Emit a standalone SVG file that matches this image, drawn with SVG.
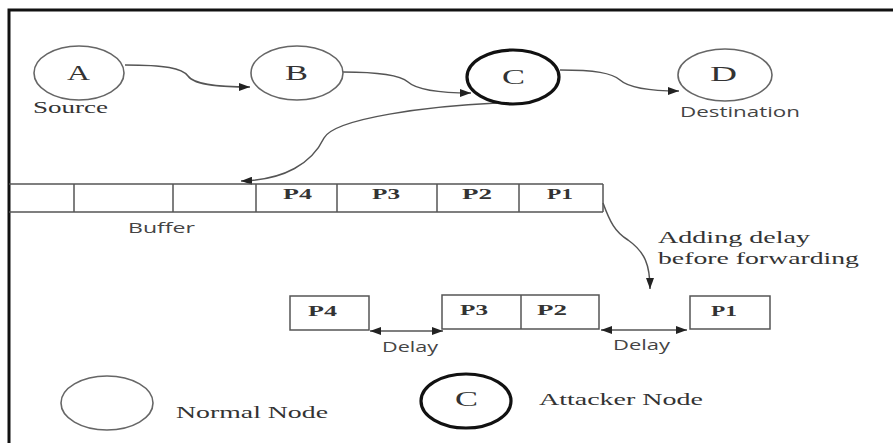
<svg xmlns="http://www.w3.org/2000/svg" width="893" height="443" viewBox="0 0 893 443">
<style>
.frame{fill:none;stroke:#111;stroke-width:3}
.node{fill:#fff;stroke:#666;stroke-width:1.6}
.att{fill:#fff;stroke:#111;stroke-width:3.2}
.ln{fill:none;stroke:#555;stroke-width:1.5}
.box{fill:#fff;stroke:#555;stroke-width:1.5}
.serif{font-family:"Liberation Serif","Times New Roman",serif;fill:#333}
.sans{font-family:"Open Sans","DejaVu Sans",sans-serif;fill:#444}
.big{font-size:21px}
.mid{font-size:15px}
.lab{font-size:17px}
.pl{font-size:15px;font-weight:bold}
</style>
<defs>
<marker id="ah" markerUnits="userSpaceOnUse" markerWidth="12" markerHeight="8" refX="11" refY="4" orient="auto-start-reverse">
<path d="M0,0 L11,4 L0,8 z" fill="#222"/>
</marker>
</defs>
<rect width="893" height="443" fill="#fff"/>
<path class="frame" d="M9,443 V10 H893"/>

<g id="connectors">
<path class="ln" marker-end="url(#ah)" d="M125,65 C165,65 182,68 188,76 C195,86 225,87 250,87"/>
<path class="ln" marker-end="url(#ah)" d="M343,72 C380,72 400,75 408,82 C418,91 445,93 471,93"/>
<path class="ln" marker-end="url(#ah)" d="M560,70 C595,70 612,73 620,80 C630,89 655,91 679,91"/>
<path class="ln" marker-end="url(#ah)" d="M497,103 C430,106 335,118 324,138 C312,163 285,180 241,181"/>
<path class="ln" marker-end="url(#ah)" d="M603,203 C610,222 615,232 628,240 C645,252 650,265 650,289"/>
<path class="ln" marker-start="url(#ah)" marker-end="url(#ah)" d="M370,331 H443"/>
<path class="ln" marker-start="url(#ah)" marker-end="url(#ah)" d="M601,330 H687"/>
</g>

<g id="nodeA">
<ellipse class="node" cx="79" cy="73" rx="45" ry="27"/>
<text class="serif big" x="67" y="80" textLength="23" lengthAdjust="spacingAndGlyphs">A</text>
<text class="serif lab" x="33" y="113" textLength="75" lengthAdjust="spacingAndGlyphs">Source</text>
</g>
<g id="nodeB">
<ellipse class="node" cx="297" cy="73" rx="46" ry="27"/>
<text class="serif big" x="285" y="80" textLength="23" lengthAdjust="spacingAndGlyphs">B</text>
</g>
<g id="nodeC">
<ellipse class="att" cx="513" cy="77" rx="46" ry="27"/>
<text class="serif big" x="502" y="84" textLength="23" lengthAdjust="spacingAndGlyphs">C</text>
</g>
<g id="nodeD">
<ellipse class="node" cx="725" cy="75" rx="47" ry="26"/>
<text class="serif big" x="710" y="81" textLength="27" lengthAdjust="spacingAndGlyphs">D</text>
<text class="sans mid" x="680" y="117" textLength="120" lengthAdjust="spacingAndGlyphs">Destination</text>
</g>

<g id="buffer">
<path class="ln" d="M9,184 H603 M9,212 H603 M74,184 V212 M173,184 V212 M256,184 V212 M337,184 V212 M437,184 V212 M519,184 V212 M603,184 V212"/>
<text class="serif pl" x="283" y="199" textLength="29" lengthAdjust="spacingAndGlyphs">P4</text>
<text class="serif pl" x="372" y="199" textLength="28" lengthAdjust="spacingAndGlyphs">P3</text>
<text class="serif pl" x="462" y="199" textLength="30" lengthAdjust="spacingAndGlyphs">P2</text>
<text class="serif pl" x="547" y="199" textLength="26" lengthAdjust="spacingAndGlyphs">P1</text>
<text class="sans mid" x="128" y="233" textLength="67" lengthAdjust="spacingAndGlyphs">Buffer</text>
</g>

<g id="label-adding">
<text class="serif lab" x="658" y="243" textLength="152" lengthAdjust="spacingAndGlyphs">Adding delay</text>
<text class="serif lab" x="658" y="264" textLength="201" lengthAdjust="spacingAndGlyphs">before forwarding</text>
</g>

<g id="outP4">
<rect class="box" x="290" y="296" width="79" height="34"/>
<text class="serif pl" x="308" y="316" textLength="29" lengthAdjust="spacingAndGlyphs">P4</text>
</g>
<g id="outP3P2">
<rect class="box" x="442" y="295" width="157" height="34"/>
<path class="ln" d="M521,295 V329"/>
<text class="serif pl" x="460" y="315" textLength="28" lengthAdjust="spacingAndGlyphs">P3</text>
<text class="serif pl" x="537" y="315" textLength="30" lengthAdjust="spacingAndGlyphs">P2</text>
</g>
<g id="outP1">
<rect class="box" x="690" y="296" width="80" height="33"/>
<text class="serif pl" x="711" y="316" textLength="26" lengthAdjust="spacingAndGlyphs">P1</text>
</g>
<g id="delay-labels">
<text class="sans mid" x="382" y="352" textLength="56" lengthAdjust="spacingAndGlyphs">Delay</text>
<text class="sans mid" x="613" y="350" textLength="57" lengthAdjust="spacingAndGlyphs">Delay</text>
</g>

<g id="legend-normal">
<ellipse class="node" cx="107" cy="403" rx="46" ry="27"/>
<text class="serif lab" x="176" y="418" textLength="152" lengthAdjust="spacingAndGlyphs">Normal Node</text>
</g>
<g id="legend-attacker">
<ellipse class="att" cx="466" cy="401" rx="45" ry="27"/>
<text class="serif big" x="455" y="406" textLength="23" lengthAdjust="spacingAndGlyphs">C</text>
<text class="serif lab" x="539" y="405" textLength="164" lengthAdjust="spacingAndGlyphs">Attacker Node</text>
</g>
</svg>
